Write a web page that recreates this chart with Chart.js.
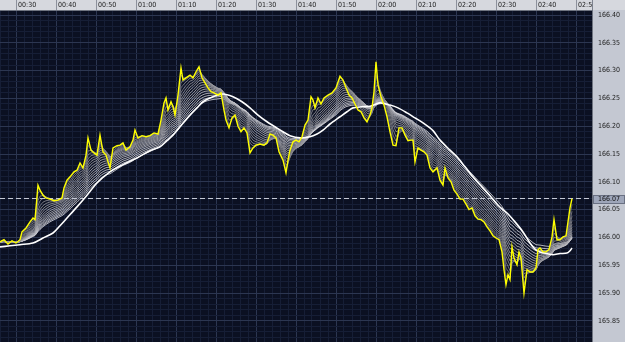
<!DOCTYPE html>
<html>
<head>
<meta charset="utf-8">
<script src="https://cdn.jsdelivr.net/npm/chart.js@4.4.1/dist/chart.umd.min.js"></script>
<style>
  html, body { margin: 0; padding: 0; background: #d6d8de; }
  #wrap { width: 625px; height: 342px; }
</style>
</head>
<body>
<div id="wrap"><canvas id="chart" width="625" height="342"></canvas></div>
<script>
// time axis in minutes after 00:00, price axis in quote units
const START_MIN = 26;
const END_MIN = 174;
const Y_MIN = 165.812;
const Y_MAX = 166.409;

const priceMinutes = [
  26, 27, 28, 29, 30, 31, 31.5, 32.5, 33.5, 34.25,
  34.75, 35.5, 36, 36.75, 37.5, 38.5, 39.5, 40.5, 41.5, 42,
  42.75, 43.5, 44.5, 45.25, 46, 46.75, 47.5, 48, 48.75, 49.5,
  50.25, 51, 51.75, 52.5, 53, 53.5, 54.25, 55.25, 56, 56.75,
  57.5, 58.5, 59.25, 59.75, 60.5, 61.5, 62.5, 63.5, 64.5, 65.5,
  66.25, 67, 67.5, 68, 68.75, 69.25, 69.75, 70.5, 71.25, 71.75,
  72.5, 73.5, 74.25, 75, 75.75, 76.5, 77.25, 78, 78.75, 79.5,
  80.5, 81.25, 82, 82.5, 83.25, 84, 84.75, 85.5, 86.25, 87,
  87.75, 88.5, 89.25, 90, 91, 92, 92.75, 93.5, 94.25, 95,
  95.75, 96.75, 97.5, 98, 98.5, 99.25, 100, 100.75, 101.5, 102.25,
  103, 103.75, 104.25, 104.75, 105.5, 106.25, 107, 108, 109, 110,
  111, 111.75, 112.5, 113.25, 114, 114.75, 115.5, 116.25, 117, 117.75,
  118.5, 119, 119.5, 120, 120.5, 121.25, 122, 122.75, 123.5, 124.25,
  125, 125.75, 126.5, 127.25, 128, 128.75, 129.25, 129.75, 130.5, 131.25,
  132, 132.75, 133.5, 134.25, 135.25, 136, 136.75, 137.25, 138, 138.75,
  139.5, 140.25, 141, 141.75, 142.5, 143.25, 144, 144.75, 145.5, 146.25,
  147, 147.75, 148.5, 149.25, 150, 150.75, 151.5, 152, 152.5, 153,
  153.5, 154, 154.5, 155.25, 155.75, 156.25, 157, 157.75, 158.5, 159.25,
  160, 160.5, 161, 161.75, 162.5, 163.25, 164, 164.5, 165.25, 166,
  166.75, 167.5, 168, 168.5, 169
];

const priceValues = [
  165.992, 165.996, 165.988, 165.994, 165.990, 165.996, 166.010, 166.017, 166.028, 166.035,
  166.032, 166.094, 166.085, 166.076, 166.071, 166.069, 166.066, 166.067, 166.071, 166.089,
  166.103, 166.109, 166.118, 166.121, 166.134, 166.125, 166.148, 166.179, 166.157, 166.152,
  166.148, 166.184, 166.154, 166.148, 166.136, 166.125, 166.161, 166.165, 166.166, 166.170,
  166.157, 166.163, 166.175, 166.193, 166.179, 166.183, 166.181, 166.183, 166.188, 166.186,
  166.211, 166.242, 166.251, 166.229, 166.244, 166.235, 166.220, 166.256, 166.305, 166.283,
  166.287, 166.292, 166.287, 166.298, 166.307, 166.287, 166.278, 166.269, 166.262, 166.260,
  166.256, 166.260, 166.229, 166.211, 166.197, 166.215, 166.220, 166.200, 166.190, 166.197,
  166.188, 166.152, 166.161, 166.166, 166.168, 166.166, 166.170, 166.186, 166.184, 166.179,
  166.154, 166.139, 166.116, 166.139, 166.157, 166.172, 166.175, 166.172, 166.181, 166.202,
  166.211, 166.253, 166.247, 166.233, 166.251, 166.240, 166.251, 166.256, 166.260, 166.269,
  166.290, 166.283, 166.269, 166.256, 166.251, 166.240, 166.229, 166.226, 166.215, 166.208,
  166.220, 166.233, 166.262, 166.316, 166.274, 166.253, 166.238, 166.217, 166.190, 166.166,
  166.165, 166.197, 166.197, 166.184, 166.174, 166.175, 166.175, 166.136, 166.161, 166.157,
  166.154, 166.148, 166.125, 166.118, 166.125, 166.103, 166.094, 166.125, 166.107, 166.100,
  166.085, 166.078, 166.069, 166.069, 166.060, 166.050, 166.053, 166.039, 166.033, 166.032,
  166.028, 166.019, 166.012, 166.003, 165.999, 165.996, 165.974, 165.942, 165.915, 165.933,
  165.924, 165.983, 165.963, 165.951, 165.974, 165.963, 165.900, 165.942, 165.938, 165.938,
  165.945, 165.978, 165.981, 165.974, 165.974, 165.978, 166.001, 166.032, 165.996, 165.996,
  166.001, 166.003, 166.028, 166.053, 166.070
];

// the bright slow average drawn in white
const slowMaMinutes = [
  26, 28.5, 31, 34.25, 36.75, 39.25, 41, 42.75, 45.25, 47.75,
  50.25, 53.5, 56.75, 60.25, 63.5, 66, 67.75, 69.25, 71, 73.5,
  75.25, 76.75, 79.25, 81.75, 84.25, 86.5, 88.5, 90.5, 92.75, 94.75,
  96.75, 98.5, 101, 103.5, 105.25, 106.75, 108.5, 111, 112.75, 114.25,
  116.5, 118.5, 121, 123.5, 125.5, 127.75, 129.75, 131.75, 134.25, 136,
  138.5, 140.25, 142.25, 144.25, 146.5, 148.5, 150.5, 152.75, 154.75, 156.75,
  158.5, 159.75, 161, 162.75, 164.25, 166, 167.75, 168.5, 169
];

const slowMaValues = [
  165.983, 165.985, 165.987, 165.990, 165.999, 166.008, 166.021, 166.035, 166.055, 166.076,
  166.098, 166.118, 166.131, 166.143, 166.156, 166.163, 166.174, 166.184, 166.199, 166.220,
  166.233, 166.244, 166.253, 166.258, 166.253, 166.244, 166.233, 166.220, 166.208, 166.199,
  166.190, 166.183, 166.179, 166.181, 166.186, 166.193, 166.204, 166.217, 166.226, 166.233,
  166.235, 166.236, 166.242, 166.238, 166.233, 166.224, 166.215, 166.206, 166.192, 166.175,
  166.157, 166.145, 166.127, 166.109, 166.091, 166.075, 166.058, 166.044, 166.028, 166.010,
  165.990, 165.979, 165.974, 165.971, 165.969, 165.971, 165.972, 165.976, 165.981
];

const lastPrice = 166.07;

// ribbon of exponential averages of the price, time constants in minutes
const ribbonTaus = [0.5, 0.9, 1.3, 1.8, 2.3, 2.8, 3.3, 3.9, 4.5, 5.1, 5.7, 6.3, 7, 7.7, 8.4, 9.2];

const PLOT_BG = "#0b1022";
const TOP_BAND = "#d6d8de";
const RIGHT_BAND = "#c4c8d2";
const GRID_MAJOR = "#2c3651";
const GRID_MINOR = "#161e36";
const FONT = { family: "'Liberation Sans Narrow', 'Arial Narrow', 'DejaVu Sans Condensed', sans-serif", size: 7 };

function pad2(n) {
  return String(n).padStart(2, "0");
}

function toPoints(xs, ys) {
  return xs.map((x, i) => ({ x, y: ys[i] }));
}

function emaSeries(tau) {
  const out = [];
  let v = priceValues[0];
  for (let i = 0; i < priceValues.length; i++) {
    if (i > 0) {
      const dt = priceMinutes[i] - priceMinutes[i - 1];
      v += (1 - Math.exp(-dt / tau)) * (priceValues[i] - v);
    }
    out.push({ x: priceMinutes[i], y: v });
  }
  return out;
}

const ribbonSets = ribbonTaus.map((tau, i) => {
  const g = Math.round(125 + (i / (ribbonTaus.length - 1)) * 95);
  return {
    data: emaSeries(tau),
    borderColor: `rgba(${g},${g},${g + 6},0.8)`,
    borderWidth: 1,
    pointRadius: 0,
    tension: 0,
    order: 10 + i,
  };
});

function noPadding(scale) {
  scale.paddingTop = 0;
  scale.paddingBottom = 0;
  scale.paddingLeft = 0;
  scale.paddingRight = 0;
}

const bandsPlugin = {
  id: "bands",
  beforeDraw(chart) {
    const { ctx, chartArea } = chart;
    ctx.save();
    ctx.fillStyle = TOP_BAND;
    ctx.fillRect(0, 0, chart.width, chartArea.top);
    ctx.fillStyle = RIGHT_BAND;
    ctx.fillRect(chartArea.right, chartArea.top, chart.width - chartArea.right, chart.height);
    ctx.fillStyle = PLOT_BG;
    ctx.fillRect(chartArea.left, chartArea.top, chartArea.right - chartArea.left, chartArea.bottom - chartArea.top);
    ctx.restore();
  },
  afterDraw(chart) {
    const { ctx, chartArea } = chart;
    const yScale = chart.scales.y;
    ctx.save();
    // corner cell above the price axis
    ctx.fillStyle = TOP_BAND;
    ctx.fillRect(chartArea.right, 0, chart.width - chartArea.right, chartArea.top);
    ctx.strokeStyle = "#7d828e";
    ctx.beginPath();
    ctx.moveTo(chartArea.right + 0.5, 0);
    ctx.lineTo(chartArea.right + 0.5, chartArea.top);
    ctx.stroke();

    // last price tag
    const y = Math.round(yScale.getPixelForValue(lastPrice));
    ctx.fillStyle = "#9ea6ba";
    ctx.fillRect(chartArea.right + 1, y - 4, chart.width - chartArea.right - 1, 9);
    ctx.strokeStyle = "#6a7183";
    ctx.strokeRect(chartArea.right + 1.5, y - 3.5, chart.width - chartArea.right - 2, 8);
    ctx.fillStyle = "#111";
    ctx.font = `${FONT.size}px ${FONT.family}`;
    ctx.textBaseline = "middle";
    ctx.textAlign = "left";
    ctx.fillText(lastPrice.toFixed(2), chartArea.right + 6, y + 0.5);
    ctx.restore();
  },
};

new Chart(document.getElementById("chart"), {
  type: "line",
  data: {
    datasets: [
      {
        data: toPoints(priceMinutes, priceValues),
        borderColor: "#ffff00",
        borderWidth: 1.4,
        pointRadius: 0,
        tension: 0,
        order: 0,
      },
      {
        data: toPoints(slowMaMinutes, slowMaValues),
        borderColor: "#ffffff",
        borderWidth: 1.6,
        pointRadius: 0,
        tension: 0.3,
        order: 1,
      },
      {
        data: [{ x: START_MIN, y: lastPrice }, { x: END_MIN, y: lastPrice }],
        borderColor: "#c9cdd8",
        borderWidth: 1,
        borderDash: [5, 3],
        pointRadius: 0,
        order: 2,
      },
      ...ribbonSets,
    ],
  },
  options: {
    responsive: false,
    devicePixelRatio: 1,
    animation: false,
    layout: { padding: 0 },
    plugins: {
      legend: { display: false },
      tooltip: { enabled: false },
    },
    scales: {
      x: {
        type: "linear",
        position: "top",
        min: START_MIN,
        max: END_MIN,
        afterFit: (scale) => { scale.height = 10; noPadding(scale); },
        border: { display: true, color: "#6f7480" },
        grid: {
          color: (c) => (c.tick && c.tick.value % 10 === 0 ? GRID_MAJOR : GRID_MINOR),
          tickColor: (c) => (c.tick && c.tick.value % 10 === 0 ? "#8c909b" : "rgba(0,0,0,0)"),
          drawTicks: true,
          tickLength: 10,
        },
        ticks: {
          stepSize: 2,
          autoSkip: false,
          maxRotation: 0,
          minRotation: 0,
          align: "start",
          labelOffset: 2,
          padding: -9,
          color: "#1c1c1c",
          font: FONT,
          callback: (v) => (v % 10 === 0 ? `${pad2(Math.floor(v / 60))}:${pad2(v % 60)}` : ""),
        },
      },
      y: {
        type: "linear",
        position: "right",
        min: Y_MIN,
        max: Y_MAX,
        afterFit: (scale) => { scale.width = 33; noPadding(scale); },
        border: { display: true, color: "#6f7480" },
        grid: {
          color: (c) => (c.tick && Math.round(c.tick.value * 100) % 5 === 0 ? GRID_MAJOR : GRID_MINOR),
          drawTicks: false,
        },
        ticks: {
          stepSize: 0.01,
          includeBounds: false,
          autoSkip: false,
          padding: 6,
          color: "#1c1c1c",
          font: FONT,
          callback: (v) => (Math.round(v * 100) % 5 === 0 ? v.toFixed(2) : ""),
        },
      },
    },
  },
  plugins: [bandsPlugin],
});
</script>
</body>
</html>
